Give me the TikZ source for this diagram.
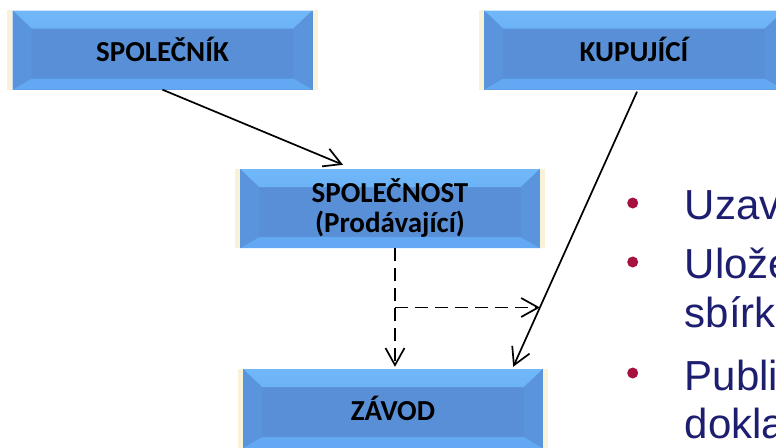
\documentclass[tikz,border=0pt]{standalone}
\usepackage{fontspec}
\setmainfont{Liberation Sans}
\newfontfamily\boxfont{Carlito}
\usetikzlibrary{arrows.meta,calc}

\definecolor{facecol}{RGB}{88,143,214}
\definecolor{topbandA}{RGB}{112,184,250}
\definecolor{topbandB}{RGB}{98,162,236}
\definecolor{botband}{RGB}{99,168,242}
\definecolor{sidecol}{RGB}{90,148,220}
\definecolor{glowcol}{RGB}{248,242,216}
\definecolor{bulletred}{RGB}{165,18,62}
\definecolor{navytext}{RGB}{30,30,112}

\tikzset{
  bevelbox/.style={
    minimum width=300pt, minimum height=79pt, inner sep=0pt,
    text height=23.5pt, text depth=0pt,
    font=\boxfont\bfseries\fontsize{29}{30}\selectfont,
    fill=facecol,
    path picture={
      % top bevel
      \shade[top color=topbandA, bottom color=topbandB]
        (path picture bounding box.north west) -- (path picture bounding box.north east)
        -- ([shift={(-19pt,-18pt)}]path picture bounding box.north east)
        -- ([shift={(19pt,-18pt)}]path picture bounding box.north west) -- cycle;
      % bottom bevel
      \fill[botband]
        (path picture bounding box.south west) -- (path picture bounding box.south east)
        -- ([shift={(-19pt,11pt)}]path picture bounding box.south east)
        -- ([shift={(19pt,11pt)}]path picture bounding box.south west) -- cycle;
      % side bevels
      \fill[sidecol]
        (path picture bounding box.north west) -- (path picture bounding box.south west)
        -- ([shift={(19pt,11pt)}]path picture bounding box.south west)
        -- ([shift={(19pt,-18pt)}]path picture bounding box.north west) -- cycle;
      \fill[sidecol]
        (path picture bounding box.north east) -- (path picture bounding box.south east)
        -- ([shift={(-19pt,11pt)}]path picture bounding box.south east)
        -- ([shift={(-19pt,-18pt)}]path picture bounding box.north east) -- cycle;
    }
  },
  twoline/.style={align=center, text height=, text depth=},
  link/.style={line width=1.7pt, -{Straight Barb[length=17pt,width=19pt]}},
  dashlink/.style={link, dash pattern=on 13pt off 7pt},
  bullettext/.style={anchor=base west, inner sep=0pt, text=navytext,
    font=\fontsize{42}{48}\selectfont},
  bulletdot/.style={circle, fill=bulletred, minimum size=11pt, inner sep=0pt},
}

\begin{document}
\begin{tikzpicture}[x=1pt,y=-1pt]
\useasboundingbox (0,0) rectangle (776,447);
\begin{scope}
\clip (0,0) rectangle (776,447);

% boxes
\node[bevelbox] (spolecnik)  at (162.5,50)  {SPOLEČNÍK};
\node[bevelbox] (kupujici)   at (634,50)    {KUPUJÍCÍ};
\node[bevelbox, twoline] (spolecnost) at (390,208.5) {SPOLEČNOST\\(Prodávající)};
\node[bevelbox] (zavod)      at (393,408.5) {ZÁVOD};

% cream rims on the left and right of every box
\foreach \b in {spolecnik,kupujici,spolecnost,zavod}{
  \fill[glowcol] ([xshift=-5pt]\b.north west) rectangle (\b.south west);
  \fill[glowcol] (\b.north east) rectangle ([xshift=5pt]\b.south east);
}

% solid connectors
\coordinate (k1) at ($(kupujici.south)+(3,2)$);
\coordinate (k2) at ($(zavod.north east)+(-30,-2)$);
\draw[link] (spolecnik.south) -- ($(spolecnost.north)+(-47,-4)$);
\draw[link] (k1) -- (k2);

% dashed connectors
\coordinate (dtop) at ($(spolecnost.south)+(5,0)$);
\coordinate (dbot) at ($(dtop |- zavod.north)+(0,-2)$);
\coordinate (branch) at ($(dtop)!0.5!(dbot)$);
\coordinate (bfar) at ($(branch)+(300,0)$);
\coordinate (meet) at (intersection of k1--k2 and branch--bfar);
\draw[dashlink] (dtop) -- (dbot);
\draw[dashlink] (branch) -- (meet);

% bullet list
\node[bullettext] (t1) at (684.7,219) {Uzav};
\node[bullettext] (t2) at (684.7,278) {Ulože};
\node[bullettext] (t3) at (684.7,327) {sbírk};
\node[bullettext] (t4) at (684.7,390) {Publi};
\node[bullettext] (t5) at (684.7,438) {dokla};
\node[bulletdot] (d1) at ($(t1.base west)+(-52,-16)$) {};
\node[bulletdot] (d2) at ($(t2.base west)+(-52,-16)$) {};
\node[bulletdot] (d3) at ($(t4.base west)+(-52,-17)$) {};
\end{scope}
\end{tikzpicture}
\end{document}
